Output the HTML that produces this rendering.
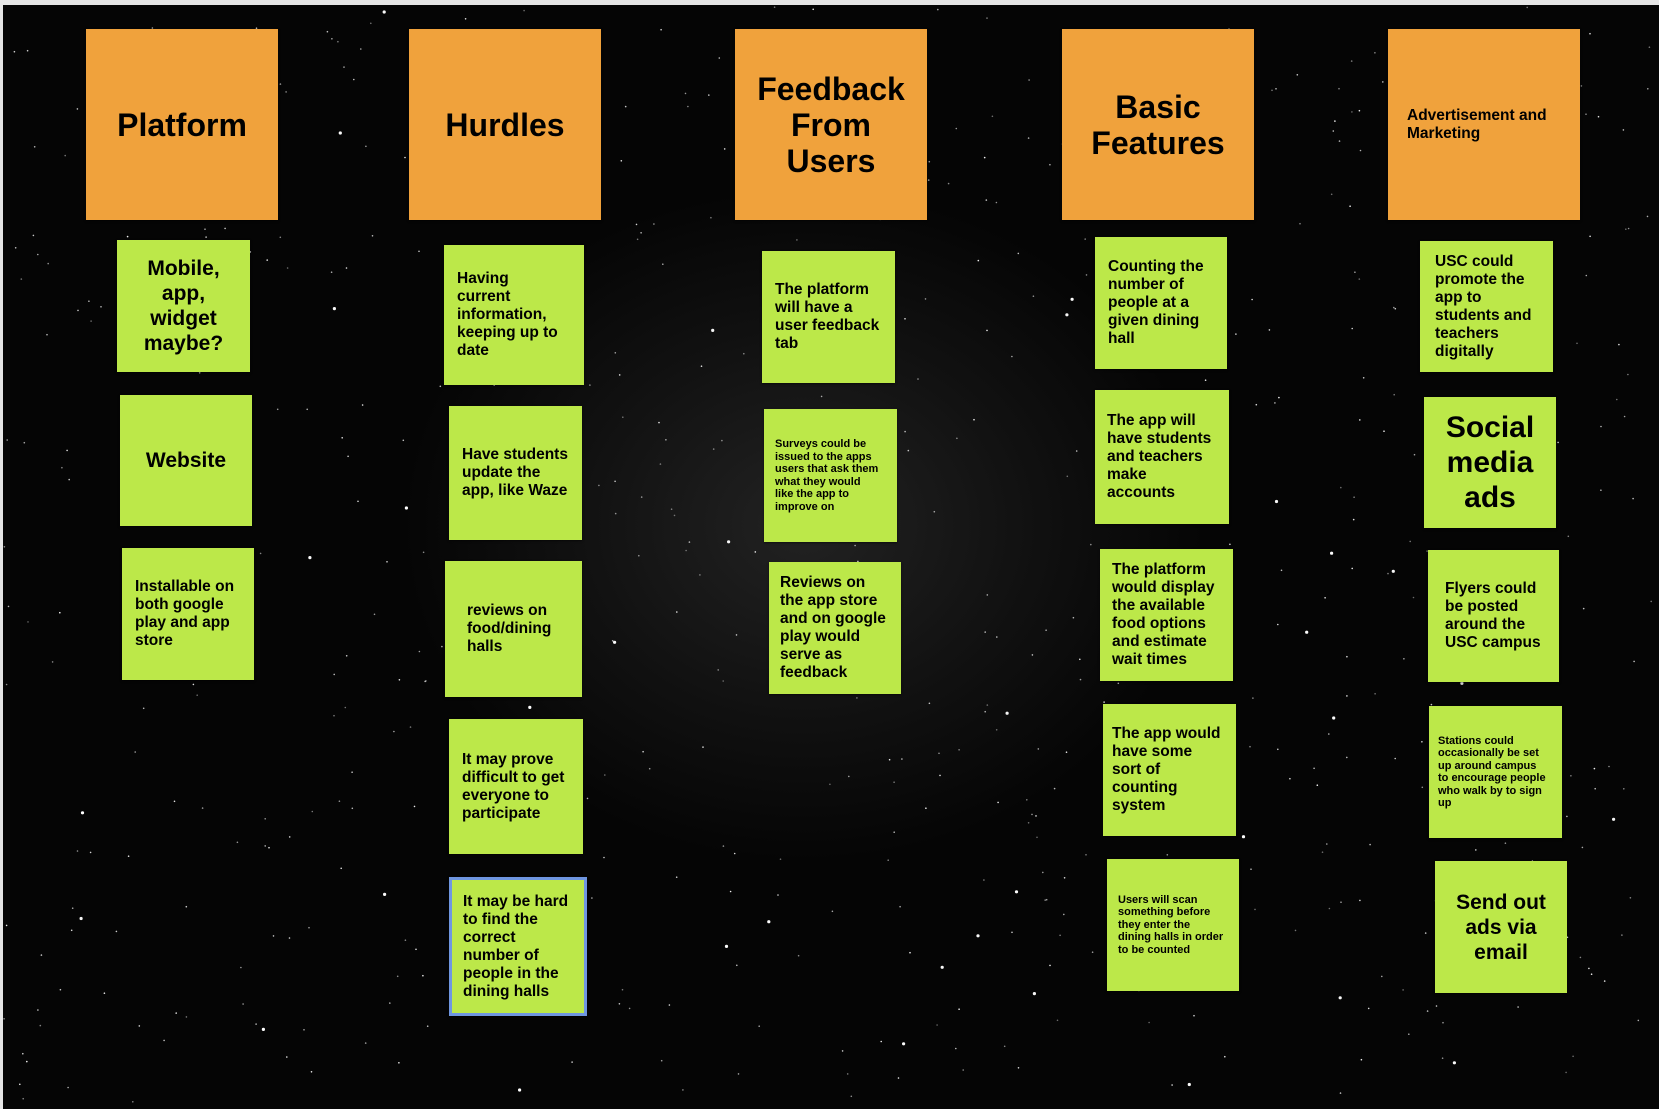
<!DOCTYPE html>
<html><head><meta charset="utf-8"><style>
body{margin:0;width:1659px;height:1109px;background:#e6e6e6;overflow:hidden;position:relative;font-family:"Liberation Sans",sans-serif;font-weight:bold}
#bg{position:absolute;left:3px;top:5px;width:1656px;height:1104px;background:radial-gradient(ellipse 500px 420px at 800px 520px,#222 0%,#111 45%,#050505 80%),#050505}
.h{position:absolute;background:#f0a23c;display:flex;align-items:center;justify-content:center;text-align:center;font-size:32px;line-height:36px;color:#000;width:192px;height:191px;top:29px;box-shadow:0 1px 2px #0008}
.n{position:absolute;background:#bce849;display:flex;align-items:center;color:#000;font-size:15.5px;line-height:18px;padding:0 13px;box-sizing:border-box;box-shadow:0 1px 2px #0008}
.c{justify-content:center;text-align:center}
.s{font-size:11px;line-height:12.5px}
svg{position:absolute;left:0;top:0}
</style></head><body>
<div id="bg"></div>
<svg width="1659" height="1109" id="stars"></svg>
<script>
var s=document.getElementById('stars'),h='',r=7;function R(){r=(r*16807)%2147483647;return r/2147483647}
for(var i=0;i<700;i++){var x=4+R()*1654,y=6+R()*1100,a=R();h+='<circle cx="'+x.toFixed(1)+'" cy="'+y.toFixed(1)+'" r="'+(a>0.93?1.6:0.8)+'" fill="#fff" opacity="'+(0.4+a*0.6).toFixed(2)+'"/>'}
s.innerHTML=h;
</script>
<div class="h" style="left:86px">Platform</div>
<div class="h" style="left:409px">Hurdles</div>
<div class="h" style="left:735px">Feedback<br>From<br>Users</div>
<div class="h" style="left:1062px">Basic<br>Features</div>
<div class="h" style="left:1388px;font-size:15.5px;line-height:18px;justify-content:flex-start;text-align:left;padding-left:19px;box-sizing:border-box">Advertisement and<br>Marketing</div>

<div class="n c" style="left:117px;top:240px;width:133px;height:132px;font-size:21px;line-height:25px">Mobile,<br>app,<br>widget<br>maybe?</div>
<div class="n c" style="left:120px;top:395px;width:132px;height:131px;font-size:21px">Website</div>
<div class="n" style="left:122px;top:548px;width:132px;height:132px">Installable on both google play and app store</div>

<div class="n" style="left:444px;top:245px;width:140px;height:140px"><span>Having<br>current<br>information,<br>keeping up to<br>date</span></div>
<div class="n" style="left:449px;top:406px;width:133px;height:134px">Have students update the app, like Waze</div>
<div class="n" style="left:445px;top:561px;width:137px;height:136px;padding-left:22px">reviews on food/dining halls</div>
<div class="n" style="left:449px;top:719px;width:134px;height:135px">It may prove difficult to get everyone to participate</div>
<div class="n" style="left:449px;top:877px;width:138px;height:139px;border:3px solid #6f96e0;padding-left:11px">It may be hard to find the correct number of people in the dining halls</div>

<div class="n" style="left:762px;top:251px;width:133px;height:132px">The platform will have a user feedback tab</div>
<div class="n s" style="left:764px;top:409px;width:133px;height:133px;padding-left:11px;padding-right:18px">Surveys could be issued to the apps users that ask them what they would like the app to improve on</div>
<div class="n" style="left:769px;top:562px;width:132px;height:132px;padding-left:11px">Reviews on the app store and on google play would serve as feedback</div>

<div class="n" style="left:1095px;top:237px;width:132px;height:132px">Counting the number of people at a given dining hall</div>
<div class="n" style="left:1095px;top:390px;width:134px;height:134px;padding-left:12px">The app will have students and teachers make accounts</div>
<div class="n" style="left:1100px;top:549px;width:133px;height:132px;padding-left:12px">The platform would display the available food options and estimate wait times</div>
<div class="n" style="left:1103px;top:704px;width:133px;height:132px;padding-left:9px">The app would have some sort of counting system</div>
<div class="n s" style="left:1107px;top:859px;width:132px;height:132px;padding-left:11px">Users will scan something before they enter the dining halls in order to be counted</div>

<div class="n" style="left:1420px;top:241px;width:133px;height:131px;padding-left:15px">USC could promote the app to students and teachers digitally</div>
<div class="n c" style="left:1424px;top:397px;width:132px;height:131px;font-size:30px;line-height:35px">Social<br>media<br>ads</div>
<div class="n" style="left:1428px;top:550px;width:131px;height:132px;padding-left:17px">Flyers could be posted around the USC campus</div>
<div class="n s" style="left:1429px;top:706px;width:133px;height:132px;padding-left:9px">Stations could occasionally be set up around campus to encourage people who walk by to sign up</div>
<div class="n c" style="left:1435px;top:861px;width:132px;height:132px;font-size:21px;line-height:25px">Send out<br>ads via<br>email</div>
</body></html>
